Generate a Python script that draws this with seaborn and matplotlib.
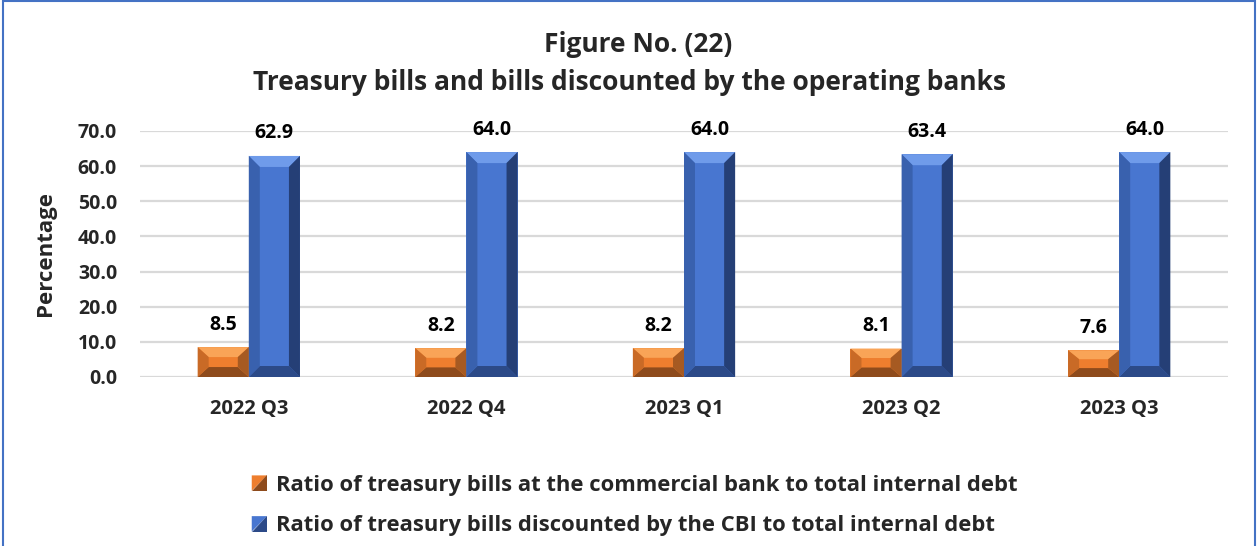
import numpy as np
import pandas as pd
import matplotlib
matplotlib.use("Agg")
import matplotlib.pyplot as plt
import seaborn as sns
from matplotlib.patches import Polygon, Rectangle
from matplotlib.legend_handler import HandlerBase
from matplotlib.ticker import FormatStrFormatter

quarters = ["2022 Q3", "2022 Q4", "2023 Q1", "2023 Q2", "2023 Q3"]
commercial_ratio = [8.5, 8.2, 8.2, 8.1, 7.6]
cbi_ratio = [62.9, 64.0, 64.0, 63.4, 64.0]
series_names = [
    "Ratio of treasury bills at the commercial bank to total internal debt",
    "Ratio of treasury bills discounted by the CBI to total internal debt",
]
title_lines = ["Figure No. (22)", "Treasury bills and bills discounted by the operating banks"]
y_label = "Percentage"
y_ticks = [0, 10, 20, 30, 40, 50, 60, 70]

# face, top bevel, bottom bevel, left bevel, right bevel
palettes = {
    series_names[0]: ("#EE7E2E", "#F9A457", "#8E4B1C", "#C96A26", "#A65A22"),
    series_names[1]: ("#4876D0", "#6F9BEA", "#2C4A88", "#3961AE", "#253F76"),
}

df = pd.DataFrame({
    "quarter": quarters * 2,
    "value": commercial_ratio + cbi_ratio,
    "series": [series_names[0]] * len(quarters) + [series_names[1]] * len(quarters),
})

sns.set_theme(style="white")
plt.rcParams["font.family"] = ["Open Sans", "DejaVu Sans"]
plt.rcParams["font.weight"] = "bold"

fig = plt.figure(figsize=(12.59, 5.46), dpi=100)
ax = fig.add_axes([140 / 1259, 1 - 377 / 546, (1228 - 140) / 1259, (377 - 131) / 546])

sns.barplot(data=df, x="quarter", y="value", hue="series", hue_order=series_names,
            palette={k: v[0] for k, v in palettes.items()}, width=0.47, gap=0,
            saturation=1, legend=False, ax=ax, edgecolor="none", linewidth=0)

ax.set_ylim(0, 70)
ax.set_xlim(-0.5, len(quarters) - 0.5)
ax.set_yticks(y_ticks)
ax.yaxis.set_major_formatter(FormatStrFormatter("%.1f"))
ax.grid(axis="y", color="#D9D9D9", linewidth=1.6)
ax.set_axisbelow(True)
for s in ax.spines.values():
    s.set_visible(False)
ax.tick_params(axis="y", labelsize=14, pad=16.5, length=0)
ax.tick_params(axis="x", labelsize=14.5, pad=16, length=0)
for lbl in ax.get_xticklabels() + ax.get_yticklabels():
    lbl.set_fontweight("bold")
ax.set_xlabel("")
ax.set_ylabel(y_label, fontsize=16, fontweight="bold", labelpad=16)

# bevelled look on every bar, derived from the bar geometry
fig.canvas.draw()
inv = ax.transData.inverted()
bev = 11
px_x = abs(inv.transform((bev, 0))[0] - inv.transform((0, 0))[0])
px_y = abs(inv.transform((0, bev))[1] - inv.transform((0, 0))[1])
bars = list(ax.patches)
all_values = commercial_ratio + cbi_ratio
all_series = [series_names[0]] * len(quarters) + [series_names[1]] * len(quarters)
for bar, val, ser in zip(bars, all_values, all_series):
    face, top, bottom, left, right = palettes[ser]
    x0, w = bar.get_x(), bar.get_width()
    x1 = x0 + w
    y0, y1 = 0, val
    bx = min(px_x, w / 4)
    by = min(px_y, val / 3)
    ix0, ix1, iy0, iy1 = x0 + bx, x1 - bx, y0 + by, y1 - by
    polys = [
        ([(x0, y1), (x1, y1), (ix1, iy1), (ix0, iy1)], top),
        ([(x0, y0), (x1, y0), (ix1, iy0), (ix0, iy0)], bottom),
        ([(x0, y0), (x0, y1), (ix0, iy1), (ix0, iy0)], left),
        ([(x1, y0), (x1, y1), (ix1, iy1), (ix1, iy0)], right),
    ]
    for pts, col in polys:
        ax.add_patch(Polygon(pts, closed=True, facecolor=col, edgecolor="none", zorder=3))
    ax.annotate(f"{val:.1f}", (x0 + w / 2, val), xytext=(0, 9), textcoords="offset points",
                ha="center", va="bottom", fontsize=14, fontweight="bold", color="black")


class BevelHandler(HandlerBase):
    def __init__(self, light, dark):
        super().__init__()
        self.light, self.dark = light, dark

    def create_artists(self, legend, orig_handle, xdescent, ydescent, width, height, fontsize, trans):
        s = min(width, height)
        x0 = -xdescent + (width - s)
        y0 = -ydescent
        t1 = Polygon([(x0, y0 + s), (x0 + s, y0 + s), (x0, y0)], closed=True,
                     facecolor=self.light, edgecolor="none", transform=trans)
        t2 = Polygon([(x0 + s, y0 + s), (x0 + s, y0), (x0, y0)], closed=True,
                     facecolor=self.dark, edgecolor="none", transform=trans)
        return [t1, t2]


handles = [Rectangle((0, 0), 1, 1) for _ in series_names]
handler_map = {h: BevelHandler(palettes[n][0], palettes[n][2]) for h, n in zip(handles, series_names)}
fig.legend(handles, series_names, handler_map=handler_map, loc="upper left",
           bbox_to_anchor=(232 / 1259, 1 - 455 / 546), frameon=False,
           prop={"size": 15.8, "weight": "bold"}, handlelength=0.7, handleheight=0.7,
           handletextpad=0.4, labelspacing=0.9)

fig.text(0.507, 1 - 45 / 546, title_lines[0], ha="center", va="center", fontsize=19, fontweight="bold")
fig.text(0.500, 1 - 82 / 546, title_lines[1], ha="center", va="center", fontsize=19, fontweight="bold")

fig.add_artist(Rectangle((0.0025, -0.01), 0.9945, 1.008, transform=fig.transFigure,
                         fill=False, edgecolor="#4472C4", linewidth=1.5))

fig.savefig("out.png", dpi=100)
